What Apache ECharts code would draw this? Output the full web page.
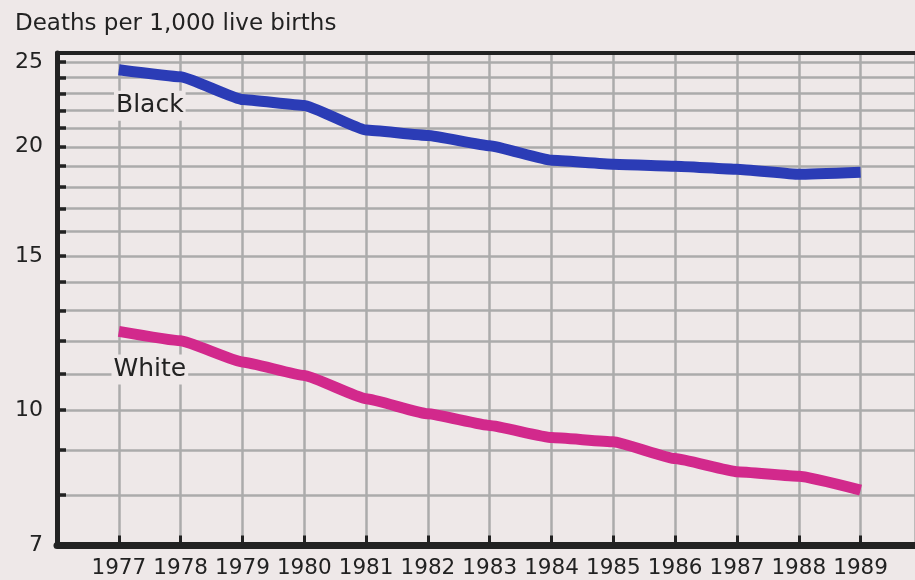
<!DOCTYPE html>
<html>
<head>
<meta charset="utf-8">
<script src="https://cdn.jsdelivr.net/npm/echarts@6/dist/echarts.min.js"></script>
<style>
  html, body { margin: 0; padding: 0; background: #eee8e8; }
  #chart { width: 915px; height: 580px; }
</style>
</head>
<body>
<div id="chart"></div>
<script>
  // infant mortality, deaths per 1,000 live births
  var years = [1977, 1978, 1979, 1980, 1981, 1982, 1983, 1984, 1985, 1986, 1987, 1988, 1989];
  var black = [24.5, 24.05, 22.65, 22.3, 20.9, 20.6, 20.05, 19.3, 19.1, 19.0, 18.85, 18.6, 18.7];
  var white = [12.3, 12.0, 11.35, 10.95, 10.3, 9.9, 9.6, 9.3, 9.2, 8.8, 8.5, 8.4, 8.1];
  var yTicks = [7, 8, 9, 10, 11, 12, 13, 14, 15, 16, 17, 18, 19, 20, 21, 22, 23, 24, 25];
  var yLabels = [7, 10, 15, 20, 25];

  var BG = '#eee8e8', INK = '#222', GRID = '#ababab';
  var FONT = 'DejaVu Sans';

  function pairs(vals) {
    return years.map(function (y, i) { return [y, vals[i]]; });
  }

  function tag(text, value, offset) {
    return {
      symbol: 'rect',
      symbolSize: 1,
      itemStyle: { color: 'transparent' },
      label: {
        show: true,
        position: 'inside',
        offset: offset,
        formatter: text,
        color: INK,
        fontFamily: FONT,
        fontSize: 25,
        backgroundColor: BG,
        padding: [3, 2, 2, 2]
      },
      data: [{ coord: [years[0], value] }]
    };
  }

  var chart = echarts.init(document.getElementById('chart'));

  chart.setOption({
    backgroundColor: BG,
    animation: false,
    title: {
      text: 'Deaths per 1,000 live births',
      left: 10,
      top: 8,
      textStyle: { fontFamily: FONT, fontSize: 23, fontWeight: 'normal', color: INK }
    },
    grid: { left: 57, right: 0, top: 53, bottom: 34.5 },
    xAxis: [
      {
        type: 'value',
        min: 1976, max: 1989.88, interval: 1,
        axisLine: { lineStyle: { color: INK, width: 7 } },
        axisTick: { inside: true, length: 10, lineStyle: { color: INK, width: 3 } },
        splitLine: { show: true, lineStyle: { color: GRID, width: 2.5 } },
        axisLabel: {
          margin: 12, color: INK, fontFamily: FONT, fontSize: 21.5,
          showMinLabel: false, showMaxLabel: false,
          formatter: function (v) { return years.indexOf(v) >= 0 ? String(v) : ''; }
        }
      },
      {
        // top frame line
        type: 'value', position: 'top',
        min: 1976, max: 1989.88,
        axisLine: { show: true, lineStyle: { color: INK, width: 4 } },
        axisTick: { show: false }, axisLabel: { show: false }, splitLine: { show: false }
      }
    ],
    yAxis: {
      type: 'log', logBase: 10,
      min: 7, max: 25.6,
      axisLine: { show: true, lineStyle: { color: INK, width: 5 } },
      axisTick: { show: true, inside: true, length: 9, customValues: yTicks, lineStyle: { color: INK, width: 3.5 } },
      splitLine: { show: true, lineStyle: { color: GRID, width: 2.5 } },
      axisLabel: { customValues: yLabels, margin: 14, color: INK, fontFamily: FONT, fontSize: 22 }
    },
    series: [
      {
        name: 'Black', type: 'line', data: pairs(black),
        showSymbol: false, smooth: 0.12, smoothMonotone: 'x',
        lineStyle: { color: '#2b3cb6', width: 11 },
        markPoint: tag('Black', black[0], [31, 36])
      },
      {
        name: 'White', type: 'line', data: pairs(white),
        showSymbol: false, smooth: 0.12, smoothMonotone: 'x',
        lineStyle: { color: '#d2298c', width: 11 },
        markPoint: tag('White', white[0], [31, 38])
      }
    ]
  });
</script>
</body>
</html>
